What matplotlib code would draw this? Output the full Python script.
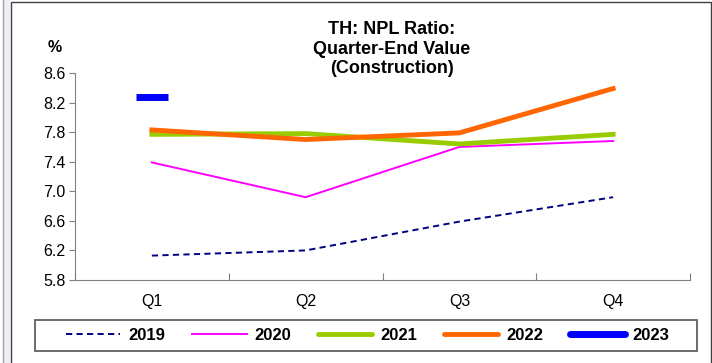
import matplotlib.pyplot as plt
from matplotlib.patches import Rectangle
import numpy as np

plt.rcParams['font.family'] = ['Liberation Sans', 'DejaVu Sans']

quarters = ['Q1', 'Q2', 'Q3', 'Q4']
npl_2019 = [6.13, 6.20, 6.59, 6.92]
npl_2020 = [7.39, 6.92, 7.60, 7.68]
npl_2021 = [7.77, 7.78, 7.64, 7.77]
npl_2022 = [7.83, 7.70, 7.79, 8.39]
npl_2023 = [8.28]

yticks = [5.8, 6.2, 6.6, 7.0, 7.4, 7.8, 8.2, 8.6]

fig = plt.figure(figsize=(7.12, 3.63), dpi=100)

# outer frame and the left strip of the screenshot
fig.patches.append(Rectangle((4 / 712, 0), 6 / 712, 1, transform=fig.transFigure,
                             facecolor='#eef0f6', edgecolor='none'))
fig.lines.append(plt.Line2D([3 / 712, 3 / 712], [0, 1], transform=fig.transFigure,
                            color='#a0a0a0', lw=1))
fig.patches.append(Rectangle((11 / 712, -0.01), 699.5 / 712, 1 - 1.5 / 363 + 0.01,
                             transform=fig.transFigure, facecolor='none',
                             edgecolor='#404040', lw=1))

ax = fig.add_axes([75 / 712, 1 - 280 / 363, 615 / 712, 207 / 363])
x = np.arange(len(quarters))

ax.plot(x, npl_2019, color='#000080', lw=1.4, ls=(0, (3.2, 2.2)), label='2019')
ax.plot(x, npl_2020, color='#ff00ff', lw=1.4, label='2020')
ax.plot(x, npl_2021, color='#99cc00', lw=3.5, label='2021')
ax.plot(x, npl_2022, color='#ff6600', lw=3.5, label='2022')
ax.plot(x[:1], npl_2023, color='#0000ff', lw=5, marker='_', ms=23, mew=5,
        label='2023')

ax.set_xlim(-0.5, 3.5)
ax.set_ylim(5.8, 8.6)
ax.set_yticks(yticks)
ax.set_yticklabels([f'{v:.1f}' for v in yticks], fontsize=11.5)
ax.set_xticks(np.arange(-0.5, 3.6, 1.0))
ax.set_xticklabels([])
ax.set_xticks(x, minor=True)
ax.set_xticklabels(quarters, minor=True, fontsize=11.5)
ax.tick_params(axis='x', which='minor', length=0, pad=10)
ax.tick_params(axis='x', which='major', length=5, direction='in', color='#808080')
ax.tick_params(axis='y', length=4, direction='out', color='#808080', pad=3)
for s in ['top', 'right']:
    ax.spines[s].set_visible(False)
for s in ['left', 'bottom']:
    ax.spines[s].set_color('#808080')

fig.text(55 / 712, 1 - 48 / 363, '%', fontsize=11.5, fontweight='bold',
         ha='center', va='center')
fig.text(392 / 712, 1 - 49 / 363, 'TH: NPL Ratio:\nQuarter-End Value\n(Construction)',
         fontsize=13, fontweight='bold', ha='center', va='center', linespacing=1.22)

# legend box drawn by hand, entries placed inside it
fig.patches.append(Rectangle((35 / 712, 1 - 351 / 363), 662 / 712, 31 / 363,
                             transform=fig.transFigure, facecolor='white',
                             edgecolor='#606060', lw=1.3, zorder=1))
handles, labels = ax.get_legend_handles_labels()
handles[2] = plt.Line2D([], [], color='#99cc00', lw=3.5, solid_capstyle='round')
handles[3] = plt.Line2D([], [], color='#ff6600', lw=3.5, solid_capstyle='round')
handles[4] = plt.Line2D([], [], color='#0000ff', lw=5, solid_capstyle='round')
leg = fig.legend(handles, labels, loc='center', ncol=5,
                 bbox_to_anchor=(368 / 712, 1 - 335.5 / 363),
                 prop={'weight': 'bold', 'size': 12}, frameon=False,
                 handlelength=3.25, columnspacing=1.6, handletextpad=0.5,
                 borderpad=0, borderaxespad=0)
leg.set_zorder(2)

fig.savefig('out.png', dpi=100)
